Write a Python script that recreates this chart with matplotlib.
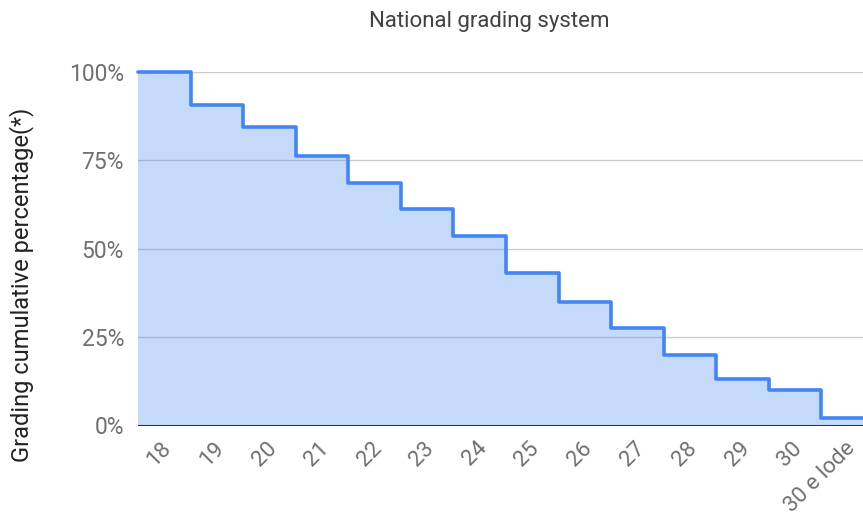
import matplotlib
matplotlib.use("Agg")
import matplotlib.pyplot as plt
import numpy as np
from matplotlib.ticker import FuncFormatter
from matplotlib.transforms import ScaledTranslation

plt.rcParams['font.family'] = ['Roboto', 'DejaVu Sans']

grades = ["18", "19", "20", "21", "22", "23", "24", "25", "26", "27", "28", "29", "30", "30 e lode"]
cumulative = [100.0, 90.7, 84.5, 76.2, 68.6, 61.2, 53.7, 43.1, 35.0, 27.5, 19.9, 13.1, 10.0, 2.0]
title = "National grading system"
ylabel = "Grading cumulative percentage(*)"
yticks = [0, 25, 50, 75, 100]

W, H = 863, 515
fig = plt.figure(figsize=(W / 100, H / 100), dpi=100)
left, right = 138, 874
top, bottom = 72, 425.5
ax = fig.add_axes([left / W, 1 - bottom / H, (right - left) / W, (bottom - top) / H])

n = len(grades)
edges = np.arange(n + 1) - 0.5
vals = np.array(cumulative + [cumulative[-1]]) / 100.0

line_c = "#4285f4"
ax.fill_between(edges, 0, vals, step="post", color=line_c, alpha=0.3, linewidth=0, zorder=2)
ax.step(edges, vals, where="post", color=line_c, linewidth=2.6, solid_joinstyle="round",
        solid_capstyle="round", zorder=3, clip_on=False)

ax.set_xlim(-0.5, n - 0.5)
ax.set_ylim(0, 1)

for y in yticks[1:]:
    ax.axhline(y / 100, color="#cccccc", linewidth=1, zorder=1)
ax.axhline(0, color="#333333", linewidth=1.5, zorder=4)

ax.set_yticks([y / 100 for y in yticks])
ax.yaxis.set_major_formatter(FuncFormatter(lambda v, p: f"{int(round(v * 100))}%"))
ax.tick_params(axis="y", length=0, pad=10, labelsize=16.5, labelcolor="#707070")
ax.set_xticks(np.arange(n))
ax.set_xticklabels(grades, rotation=45, ha="right", va="center", rotation_mode="anchor")
ax.tick_params(axis="x", length=0, pad=14, labelsize=16, labelcolor="#707070")
shift = ScaledTranslation(4 / 100, 0, fig.dpi_scale_trans)
for lab in ax.get_xticklabels():
    lab.set_transform(lab.get_transform() + shift)

for s in ax.spines.values():
    s.set_visible(False)

fig.text(489 / W, 1 - 21 / H, title, ha="center", va="center", fontsize=16, color="#424242")
fig.text(22 / W, 1 - 285 / H, ylabel, ha="center", va="center", rotation=90, fontsize=17, color="#222222")

fig.savefig("out.png", dpi=100)
